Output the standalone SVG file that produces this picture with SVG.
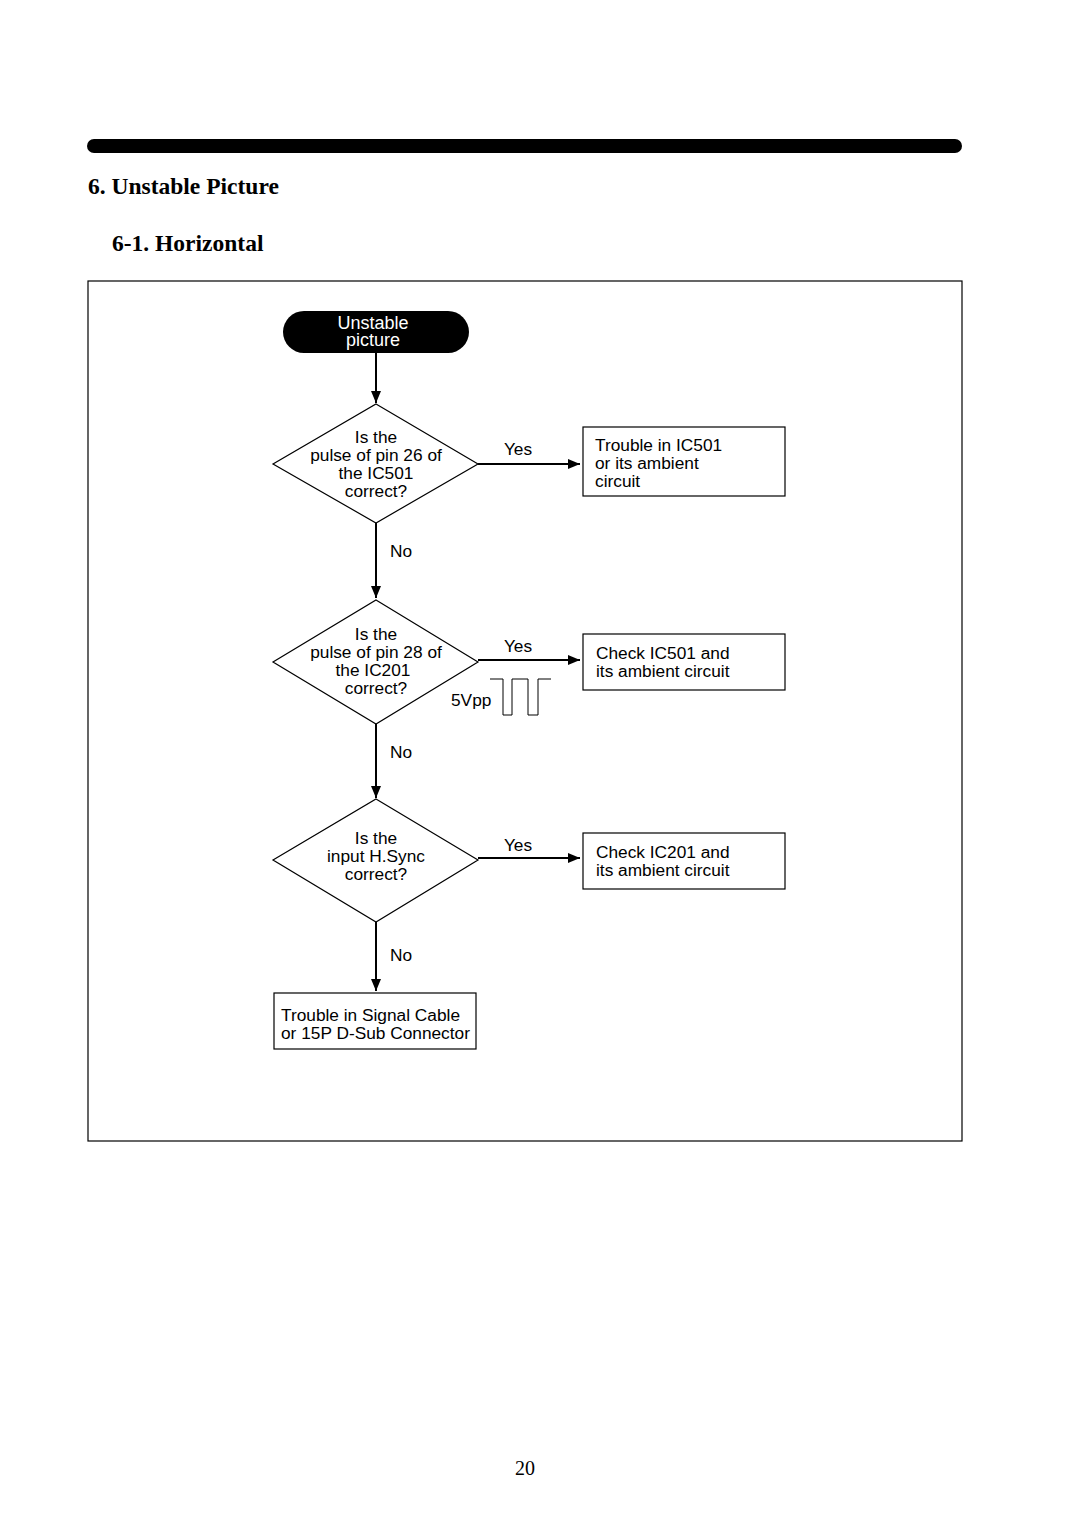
<svg xmlns="http://www.w3.org/2000/svg" width="1080" height="1528" viewBox="0 0 1080 1528">
<defs>
<marker id="ah" viewBox="0 0 12 10" refX="12" refY="5" markerWidth="12" markerHeight="10" markerUnits="userSpaceOnUse" orient="auto">
<path d="M0,0 L12,5 L0,10 Z" fill="#000"/>
</marker>
<style>
.t{font-family:"Liberation Sans",Arial,sans-serif;font-size:17.3px;fill:#000}
.c{text-anchor:middle}
.h{font-family:"Liberation Serif","Times New Roman",serif;font-weight:bold;font-size:23.5px;fill:#000}
.box{fill:#fff;stroke:#000;stroke-width:1.2}
.ln{fill:none;stroke:#000;stroke-width:2}
</style>
</defs>
<rect width="1080" height="1528" fill="#fff"/>
<rect x="87" y="139" width="875" height="14" rx="7" fill="#000"/>
<text class="h" x="88" y="194">6. Unstable Picture</text>
<text class="h" x="112" y="251">6-1. Horizontal</text>
<rect x="88" y="281" width="874" height="860" fill="none" stroke="#000" stroke-width="1.2"/>

<g id="connectors">
<line class="ln" x1="376" y1="353" x2="376" y2="403" marker-end="url(#ah)"/>
<line class="ln" x1="478" y1="464" x2="580" y2="464" marker-end="url(#ah)"/>
<text class="t c" x="518" y="455">Yes</text>
<line class="ln" x1="376" y1="523" x2="376" y2="598" marker-end="url(#ah)"/>
<text class="t" x="390" y="557">No</text>
<line class="ln" x1="478" y1="660" x2="580" y2="660" marker-end="url(#ah)"/>
<text class="t c" x="518" y="652">Yes</text>
<line class="ln" x1="376" y1="724" x2="376" y2="798" marker-end="url(#ah)"/>
<text class="t" x="390" y="758">No</text>
<line class="ln" x1="478" y1="858" x2="580" y2="858" marker-end="url(#ah)"/>
<text class="t c" x="518" y="851">Yes</text>
<line class="ln" x1="376" y1="922" x2="376" y2="991" marker-end="url(#ah)"/>
<text class="t" x="390" y="961">No</text>
</g>

<g id="start">
<rect x="283" y="311" width="186" height="42" rx="21" fill="#000"/>
<text class="t c" x="373" y="329" style="fill:#fff;font-size:18px">Unstable</text>
<text class="t c" x="373" y="346" style="fill:#fff;font-size:18px">picture</text>
</g>

<g id="d1">
<polygon class="box" points="376,404 478,464 376,523 273,464"/>
<text class="t c" x="376" y="443">Is the</text>
<text class="t c" x="376" y="461">pulse of pin 26 of</text>
<text class="t c" x="376" y="479">the IC501</text>
<text class="t c" x="376" y="497">correct?</text>
</g>

<g id="b1">
<rect class="box" x="583" y="427" width="202" height="69"/>
<text class="t" x="595" y="451">Trouble in IC501</text>
<text class="t" x="595" y="469">or its ambient</text>
<text class="t" x="595" y="487">circuit</text>
</g>

<g id="d2">
<polygon class="box" points="376,600 478,662 376,724 273,662"/>
<text class="t c" x="376" y="640">Is the</text>
<text class="t c" x="376" y="658">pulse of pin 28 of</text>
<text class="t c" x="373" y="676">the IC201</text>
<text class="t c" x="376" y="694">correct?</text>
</g>

<g id="b2">
<rect class="box" x="583" y="634" width="202" height="56"/>
<text class="t" x="596" y="659">Check IC501 and</text>
<text class="t" x="596" y="677">its ambient circuit</text>
</g>

<g id="pulse">
<text class="t" x="451" y="706">5Vpp</text>
<path d="M490,679 H503 V715 H512 V679 H528 V715 H538 V679 H551" fill="none" stroke="#000" stroke-width="1"/>
</g>

<g id="d3">
<polygon class="box" points="376,799 478,860 376,922 273,860"/>
<text class="t c" x="376" y="844">Is the</text>
<text class="t c" x="376" y="862">input H.Sync</text>
<text class="t c" x="376" y="880">correct?</text>
</g>

<g id="b3">
<rect class="box" x="583" y="833" width="202" height="56"/>
<text class="t" x="596" y="858">Check IC201 and</text>
<text class="t" x="596" y="876">its ambient circuit</text>
</g>

<g id="b4">
<rect class="box" x="274" y="993" width="202" height="56"/>
<text class="t" x="281" y="1021">Trouble in Signal Cable</text>
<text class="t" x="281" y="1039">or 15P D-Sub Connector</text>
</g>

<text x="525" y="1475" text-anchor="middle" style="font-family:'Liberation Serif','Times New Roman',serif;font-size:20px">20</text>
</svg>
